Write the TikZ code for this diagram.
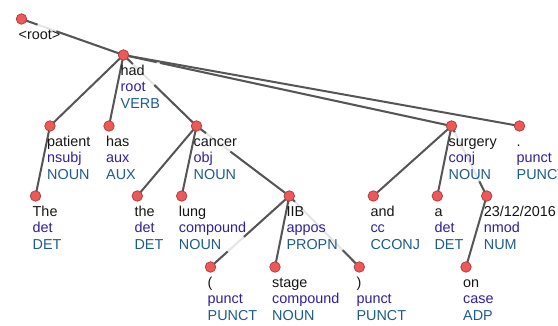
\documentclass[tikz,border=0pt]{standalone}
\usepackage{fontspec}
\setmainfont{Liberation Sans}
\definecolor{edgec}{HTML}{555555}
\definecolor{faintc}{HTML}{E4E4E4}
\definecolor{dotfill}{HTML}{F05858}
\definecolor{dotline}{HTML}{A84444}
\definecolor{relc}{HTML}{2E1F9E}
\definecolor{posc}{HTML}{1C5C8C}
\definecolor{wordc}{HTML}{151515}
\pgfdeclarelayer{edgelayer}
\pgfsetlayers{edgelayer,main}
\tikzset{
  dot/.style={circle,fill=dotfill,draw=dotline,line width=0.8pt,minimum size=10.5pt,inner sep=0pt},
  edge/.style={draw=edgec,line width=2pt},
  faintedge/.style={draw=faintc,line width=2pt},
  lbl/.style={anchor=base west,inner sep=0pt,font=\fontsize{14.4}{16}\selectfont},
  wordlbl/.style={lbl,text=wordc},
  rellbl/.style={lbl,text=relc},
  poslbl/.style={lbl,text=posc}
}
\newcommand\tok[6]{%
  \node[dot] (#1) at (#2,#3) {};
  \node[wordlbl] (#1w) at ([shift={(-3,20.3)}]#1.center) {#4};
  \node[rellbl] (#1r) at ([shift={(-3,37.0)}]#1.center) {#5};
  \node[poslbl] (#1p) at ([shift={(-3,53.7)}]#1.center) {#6};
}
% edge that fades behind a label: dark for #3 pt, faint for #4 pt, then dark again
\newcommand\gapedge[4]{%
  \draw[faintedge] (#1.center) -- (#2.center);
  \draw[edge,dash pattern=on #3pt off #4pt on 600pt] (#1.center) -- (#2.center);
}
\begin{document}
\begin{tikzpicture}[x=1pt,y=-1pt]
\useasboundingbox (0,0) rectangle (558,326);
\node[dot] (root) at (21.5,19) {};
\node[wordlbl,text=wordc] (rootw) at ([shift={(-3,20.3)}]root.center) {<root>};
\tok{had}{123.5}{55}{had}{root}{VERB}
\tok{patient}{50}{126}{patient}{nsubj}{NOUN}
\tok{has}{109}{126}{has}{aux}{AUX}
\tok{cancer}{196.5}{126}{cancer}{obj}{NOUN}
\tok{surgery}{451.5}{126}{surgery}{conj}{NOUN}
\tok{pdot}{519.5}{126}{.}{punct}{PUNCT}
\tok{The}{35.5}{196}{The}{det}{DET}
\tok{the}{137.3}{196}{the}{det}{DET}
\tok{lung}{181.7}{196}{lung}{compound}{NOUN}
\tok{IIB}{289.3}{196}{IIB}{appos}{PROPN}
\tok{and}{373.3}{196}{and}{cc}{CCONJ}
\tok{a}{437.3}{196}{a}{det}{DET}
\tok{date}{486.7}{196}{23/12/2016}{nmod}{NUM}
\tok{lp}{210.5}{267}{(}{punct}{PUNCT}
\tok{stage}{275}{267}{stage}{compound}{NOUN}
\tok{rp}{359.3}{267}{)}{punct}{PUNCT}
\tok{on}{466}{267}{on}{case}{ADP}
\begin{pgfonlayer}{edgelayer}
\gapedge{root}{had}{17}{20}
\draw[edge] (had.center) -- (patient.center);
\draw[edge] (had.center) -- (has.center);
\gapedge{had}{cancer}{13}{30}
\gapedge{had}{surgery}{34}{3.5}
\draw[edge] (had.center) -- (pdot.center);
\draw[edge] (patient.center) -- (The.center);
\draw[edge] (cancer.center) -- (the.center);
\draw[edge] (cancer.center) -- (lung.center);
\gapedge{cancer}{IIB}{12}{30.5}
\gapedge{IIB}{lp}{61}{22}
\draw[edge] (IIB.center) -- (stage.center);
\gapedge{IIB}{rp}{8}{68}
\draw[edge] (surgery.center) -- (and.center);
\draw[edge] (surgery.center) -- (a.center);
\gapedge{surgery}{date}{7}{55}
\draw[edge] (date.center) -- (on.center);
\end{pgfonlayer}
\end{tikzpicture}
\end{document}
